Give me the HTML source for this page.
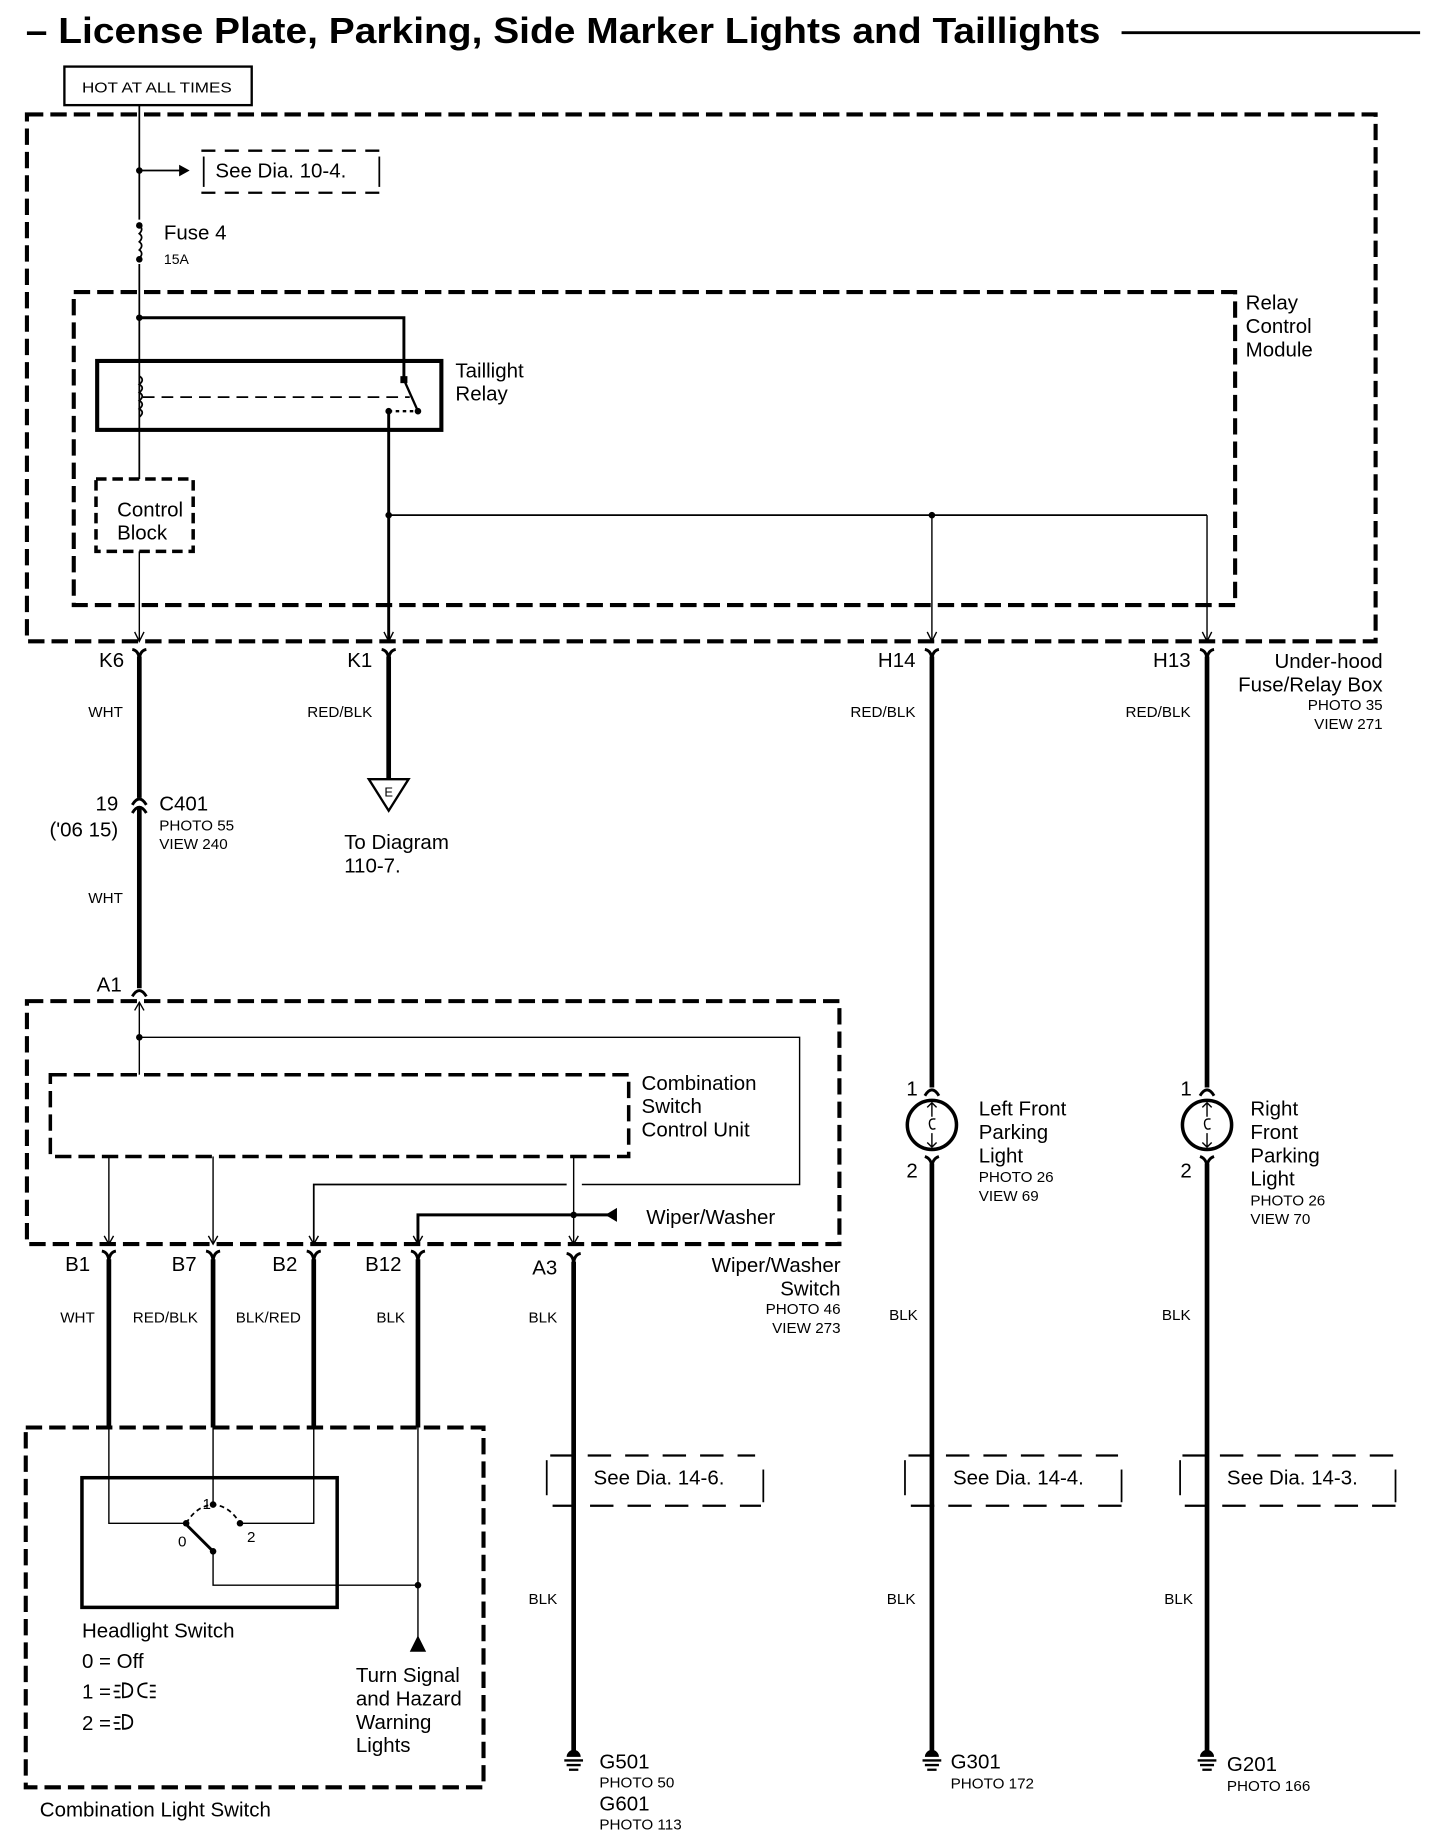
<!DOCTYPE html>
<html><head><meta charset="utf-8"><style>
html,body{margin:0;padding:0;background:#fff;}
svg{display:block;}
text{font-family:"Liberation Sans",Arial,sans-serif;fill:#000;}
.l{font-size:17.5px;}
.s{font-size:13px;}
.e{text-anchor:end;}
</style></head><body>
<svg width="1440" height="1834" viewBox="0 0 1230 1570" preserveAspectRatio="none" xmlns="http://www.w3.org/2000/svg">
<g fill="none" stroke="#000">
<line x1="958" y1="28" x2="1213" y2="28" stroke-width="2.5"/>
<rect x="55" y="57" width="160" height="33" stroke-width="2"/>
<rect x="23" y="98" width="1152" height="451" stroke-width="3.5" stroke-dasharray="14 6"/>
<line x1="119" y1="90" x2="119" y2="188" stroke-width="1.5"/>
<line x1="119" y1="226" x2="119" y2="410" stroke-width="1.5"/>
<path d="M119,193 q4,3 0,7 q4,3 0,7 q4,3 0,7 q4,3 0,7" stroke-width="1.5"/>
<line x1="119" y1="146" x2="155" y2="146" stroke-width="1.5"/>
<line x1="172" y1="129" x2="325" y2="129" stroke-width="2" stroke-dasharray="12 8"/>
<line x1="172" y1="165" x2="325" y2="165" stroke-width="2" stroke-dasharray="12 8"/>
<line x1="174" y1="134" x2="174" y2="160" stroke-width="1.5"/>
<line x1="324" y1="134" x2="324" y2="160" stroke-width="1.5"/>
<rect x="63" y="250" width="992" height="268" stroke-width="3.5" stroke-dasharray="14 6"/>
<polyline points="119,272 345,272 345,325" stroke-width="2.5"/>
<rect x="83" y="309" width="294" height="59" stroke-width="3.5"/>
<path d="M119,322 q5,3 0,7 q5,3 0,7 q5,3 0,7 q5,3 0,7 q5,3 0,7" stroke-width="1.5"/>
<line x1="122" y1="340" x2="350" y2="340" stroke-width="1.5" stroke-dasharray="10 6"/>
<line x1="345" y1="325" x2="357" y2="352" stroke-width="2"/>
<line x1="332" y1="352" x2="357" y2="352" stroke-width="2" stroke-dasharray="3 3"/>
<line x1="332" y1="352" x2="332" y2="549" stroke-width="2.5"/>
<line x1="332" y1="441" x2="1031" y2="441" stroke-width="1.5"/>
<line x1="796" y1="441" x2="796" y2="549" stroke-width="1.2"/>
<line x1="1031" y1="441" x2="1031" y2="549" stroke-width="1.2"/>
<rect x="82" y="410" width="83" height="62" stroke-width="3" stroke-dasharray="9 5"/>
<line x1="119" y1="472" x2="119" y2="549" stroke-width="1.2"/>
<path d="M115,541 L119,549 L123,541 M328,541 L332,549 L336,541 M792,541 L796,549 L800,541 M1027,541 L1031,549 L1035,541" stroke-width="1.2"/>
<path d="M113,556 Q119,557 119,566 Q119,557 125,556 M326,556 Q332,557 332,566 Q332,557 338,556 M790,556 Q796,557 796,566 Q796,557 802,556 M1025,556 Q1031,557 1031,566 Q1031,557 1037,556" stroke-width="2.5"/>
<line x1="119" y1="562" x2="119" y2="683" stroke-width="4"/>
<line x1="119" y1="692" x2="119" y2="846" stroke-width="4"/>
<path d="M113,689 Q119,679 125,689 M113,696 Q119,686 125,696" stroke-width="2.5"/>
<path d="M113,853 Q119,843 125,853" stroke-width="2.5"/>
<line x1="332" y1="562" x2="332" y2="667" stroke-width="4"/>
<polygon points="315,667 349,667 332,694" stroke-width="2" fill="#fff"/>
<line x1="796" y1="562" x2="796" y2="931" stroke-width="4"/>
<line x1="796" y1="996" x2="796" y2="1500" stroke-width="4"/>
<line x1="1031" y1="562" x2="1031" y2="931" stroke-width="4"/>
<line x1="1031" y1="996" x2="1031" y2="1500" stroke-width="4"/>
<path d="M790,938 Q796,928 802,938 M1025,938 Q1031,928 1037,938" stroke-width="2.5"/>
<circle cx="796" cy="963" r="21" stroke-width="3"/>
<circle cx="1031" cy="963" r="21" stroke-width="3"/>
<path d="M796,944 V956 M796,970 V982 M792,948 L796,944 L800,948 M792,978 L796,982 L800,978 M799,958 q-6,-1 -5,5 q1,5 5,3 M1031,944 V956 M1031,970 V982 M1027,948 L1031,944 L1035,948 M1027,978 L1031,982 L1035,978 M1034,958 q-6,-1 -5,5 q1,5 5,3" stroke-width="1.2"/>
<path d="M790,990 Q796,992 796,1000 Q796,992 802,990 M1025,990 Q1031,992 1031,1000 Q1031,992 1037,990" stroke-width="2.5"/>
<rect x="23" y="857" width="694" height="208" stroke-width="3.5" stroke-dasharray="14 6"/>
<line x1="119" y1="858" x2="119" y2="920" stroke-width="1.2"/>
<path d="M115,865 L119,858 L123,865" stroke-width="1.2"/>
<polyline points="119,888 683,888 683,1014 497,1014" stroke-width="1.2"/>
<polyline points="484,1014 268,1014 268,1065" stroke-width="1.5"/>
<rect x="43" y="920" width="494" height="70" stroke-width="3" stroke-dasharray="14 6"/>
<line x1="93" y1="990" x2="93" y2="1065" stroke-width="1.2"/>
<line x1="182" y1="990" x2="182" y2="1065" stroke-width="1.2"/>
<line x1="490" y1="990" x2="490" y2="1065" stroke-width="1.2"/>
<polyline points="520,1040 357,1040 357,1065" stroke-width="2.5"/>
<path d="M89,1058 L93,1065 L97,1058 M178,1058 L182,1065 L186,1058 M264,1058 L268,1065 L272,1058 M353,1058 L357,1065 L361,1058 M486,1058 L490,1065 L494,1058" stroke-width="1.2"/>
<path d="M87,1071 Q93,1072 93,1081 Q93,1072 99,1071 M176,1071 Q182,1072 182,1081 Q182,1072 188,1071 M262,1071 Q268,1072 268,1081 Q268,1072 274,1071 M351,1071 Q357,1072 357,1081 Q357,1072 363,1071 M484,1073 Q490,1074 490,1083 Q490,1074 496,1073" stroke-width="2.5"/>
<line x1="93" y1="1078" x2="93" y2="1222" stroke-width="4"/>
<line x1="182" y1="1078" x2="182" y2="1222" stroke-width="4"/>
<line x1="268" y1="1078" x2="268" y2="1222" stroke-width="4"/>
<line x1="357" y1="1078" x2="357" y2="1222" stroke-width="4"/>
<line x1="490" y1="1080" x2="490" y2="1500" stroke-width="4"/>
<g stroke-width="2" stroke-dasharray="20 12">
<line x1="470" y1="1246" x2="645" y2="1246"/><line x1="472" y1="1289" x2="650" y2="1289"/>
<line x1="776" y1="1246" x2="955" y2="1246"/><line x1="778" y1="1289" x2="958" y2="1289"/>
<line x1="1010" y1="1246" x2="1190" y2="1246"/><line x1="1012" y1="1289" x2="1192" y2="1289"/>
</g>
<g stroke-width="1.5">
<line x1="467" y1="1250" x2="467" y2="1280"/><line x1="652" y1="1258" x2="652" y2="1286"/>
<line x1="773" y1="1250" x2="773" y2="1280"/><line x1="958" y1="1258" x2="958" y2="1286"/>
<line x1="1008" y1="1250" x2="1008" y2="1280"/><line x1="1192" y1="1258" x2="1192" y2="1286"/>
</g>
<g stroke-width="2">
<path d="M482,1507 H498 M484,1511 H496 M486,1515 H494"/>
<path d="M788,1507 H804 M790,1511 H802 M792,1515 H800"/>
<path d="M1023,1507 H1039 M1025,1511 H1037 M1027,1515 H1035"/>
</g>
<rect x="22" y="1222" width="391" height="308" stroke-width="3.5" stroke-dasharray="14 6"/>
<rect x="70" y="1265" width="218" height="111" stroke-width="3"/>
<polyline points="93,1222 93,1304 159,1304" stroke-width="1.2"/>
<line x1="182" y1="1222" x2="182" y2="1288" stroke-width="1.2"/>
<polyline points="268,1222 268,1304 205,1304" stroke-width="1.2"/>
<path d="M159,1304 Q168,1289 182,1288 Q196,1289 205,1304" stroke-width="1.5" stroke-dasharray="4 3"/>
<line x1="160" y1="1306" x2="182" y2="1328" stroke-width="2.5"/>
<polyline points="182,1328 182,1357 357,1357" stroke-width="1.2"/>
<line x1="357" y1="1222" x2="357" y2="1402" stroke-width="1.2"/>
<path d="M98,1443 h5 M97,1448 h5 M98,1453 h5 M105,1441 q8,0 8,6 q0,6 -8,6 z M126,1441 q-8,0 -8,6 q0,6 8,6 M128,1443 h5 M128,1448 h5 M128,1453 h5" stroke-width="1.5"/>
<path d="M98,1470 h5 M97,1475 h5 M98,1480 h5 M105,1468 q8,0 8,6 q0,6 -8,6 z" stroke-width="1.5"/>
</g>
<g fill="#000">
<circle cx="119" cy="146" r="2.8"/>
<polygon points="153,141 162,146 153,151"/>
<circle cx="119" cy="193" r="2.8"/><circle cx="119" cy="222" r="2.8"/>
<circle cx="119" cy="272" r="2.8"/>
<rect x="342" y="322" width="6" height="6"/>
<circle cx="332" cy="352" r="2.8"/><circle cx="357" cy="352" r="2.8"/>
<circle cx="332" cy="441" r="2.8"/><circle cx="796" cy="441" r="2.8"/>
<circle cx="119" cy="888" r="2.8"/>
<circle cx="490" cy="1040" r="2.8"/>
<polygon points="517,1040 527,1034 527,1046"/>
<circle cx="159" cy="1304" r="2.8"/><circle cx="182" cy="1288" r="2.8"/><circle cx="205" cy="1304" r="2.8"/><circle cx="182" cy="1328" r="2.8"/>
<circle cx="357" cy="1357" r="2.8"/>
<polygon points="350,1414 364,1414 357,1400"/>
<path d="M484,1504 a6,6 0 0 1 12,0 z M790,1504 a6,6 0 0 1 12,0 z M1025,1504 a6,6 0 0 1 12,0 z"/>
</g>
<text x="22" y="37" font-size="31" font-weight="bold" textLength="918" lengthAdjust="spacingAndGlyphs">– License Plate, Parking, Side Marker Lights and Taillights</text>
<text x="70" y="79" class="s" textLength="128" lengthAdjust="spacingAndGlyphs">HOT AT ALL TIMES</text>
<text x="184" y="152" class="l">See Dia. 10-4.</text>
<text x="140" y="205" class="l">Fuse 4</text>
<text x="140" y="226" font-size="12">15A</text>
<text x="1064" y="265" class="l">Relay</text><text x="1064" y="285" class="l">Control</text><text x="1064" y="305" class="l">Module</text>
<text x="389" y="323" class="l">Taillight</text><text x="389" y="343" class="l">Relay</text>
<text x="100" y="442" class="l">Control</text><text x="100" y="462" class="l">Block</text>
<text x="106" y="571" class="l e">K6</text>
<text x="318" y="571" class="l e">K1</text>
<text x="782" y="571" class="l e">H14</text>
<text x="1017" y="571" class="l e">H13</text>
<text x="1181" y="572" class="l e">Under-hood</text>
<text x="1181" y="592" class="l e">Fuse/Relay Box</text>
<text x="1181" y="608" class="s e">PHOTO 35</text>
<text x="1181" y="624" class="s e">VIEW 271</text>
<text x="105" y="614" class="s e">WHT</text>
<text x="318" y="614" class="s e">RED/BLK</text>
<text x="782" y="614" class="s e">RED/BLK</text>
<text x="1017" y="614" class="s e">RED/BLK</text>
<text x="101" y="694" class="l e">19</text>
<text x="101" y="716" class="l e">('06 15)</text>
<text x="136" y="694" class="l">C401</text>
<text x="136" y="711" class="s">PHOTO 55</text>
<text x="136" y="727" class="s">VIEW 240</text>
<text x="332" y="682" font-size="11" text-anchor="middle">E</text>
<text x="294" y="727" class="l">To Diagram</text><text x="294" y="747" class="l">110-7.</text>
<text x="105" y="773" class="s e">WHT</text>
<text x="104" y="849" class="l e">A1</text>
<text x="784" y="938" class="l e">1</text><text x="784" y="1008" class="l e">2</text>
<text x="1018" y="938" class="l e">1</text><text x="1018" y="1008" class="l e">2</text>
<text x="836" y="955" class="l">Left Front</text><text x="836" y="975" class="l">Parking</text><text x="836" y="995" class="l">Light</text>
<text x="836" y="1012" class="s">PHOTO 26</text><text x="836" y="1028" class="s">VIEW 69</text>
<text x="1068" y="955" class="l">Right</text><text x="1068" y="975" class="l">Front</text><text x="1068" y="995" class="l">Parking</text><text x="1068" y="1015" class="l">Light</text>
<text x="1068" y="1032" class="s">PHOTO 26</text><text x="1068" y="1048" class="s">VIEW 70</text>
<text x="548" y="933" class="l">Combination</text><text x="548" y="953" class="l">Switch</text><text x="548" y="973" class="l">Control Unit</text>
<text x="552" y="1048" class="l">Wiper/Washer</text>
<text x="77" y="1088" class="l e">B1</text>
<text x="168" y="1088" class="l e">B7</text>
<text x="254" y="1088" class="l e">B2</text>
<text x="343" y="1088" class="l e">B12</text>
<text x="476" y="1091" class="l e">A3</text>
<text x="718" y="1089" class="l e">Wiper/Washer</text>
<text x="718" y="1109" class="l e">Switch</text>
<text x="718" y="1125" class="s e">PHOTO 46</text>
<text x="718" y="1141" class="s e">VIEW 273</text>
<text x="81" y="1132" class="s e">WHT</text>
<text x="169" y="1132" class="s e">RED/BLK</text>
<text x="257" y="1132" class="s e">BLK/RED</text>
<text x="346" y="1132" class="s e">BLK</text>
<text x="476" y="1132" class="s e">BLK</text>
<text x="784" y="1130" class="s e">BLK</text>
<text x="1017" y="1130" class="s e">BLK</text>
<text x="476" y="1373" class="s e">BLK</text>
<text x="782" y="1373" class="s e">BLK</text>
<text x="1019" y="1373" class="s e">BLK</text>
<text x="507" y="1271" class="l">See Dia. 14-6.</text>
<text x="814" y="1271" class="l">See Dia. 14-4.</text>
<text x="1048" y="1271" class="l">See Dia. 14-3.</text>
<text x="173" y="1292" class="s">1</text>
<text x="152" y="1324" class="s">0</text>
<text x="211" y="1320" class="s">2</text>
<text x="70" y="1402" class="l">Headlight Switch</text>
<text x="70" y="1428" class="l">0 = Off</text>
<text x="70" y="1454" class="l">1 =</text>
<text x="70" y="1481" class="l">2 =</text>
<text x="304" y="1440" class="l">Turn Signal</text>
<text x="304" y="1460" class="l">and Hazard</text>
<text x="304" y="1480" class="l">Warning</text>
<text x="304" y="1500" class="l">Lights</text>
<text x="34" y="1555" class="l">Combination Light Switch</text>
<text x="512" y="1514" class="l">G501</text>
<text x="512" y="1530" class="s">PHOTO 50</text>
<text x="512" y="1550" class="l">G601</text>
<text x="512" y="1566" class="s">PHOTO 113</text>
<text x="812" y="1514" class="l">G301</text>
<text x="812" y="1531" class="s">PHOTO 172</text>
<text x="1048" y="1516" class="l">G201</text>
<text x="1048" y="1533" class="s">PHOTO 166</text>
</svg>
</body></html>
